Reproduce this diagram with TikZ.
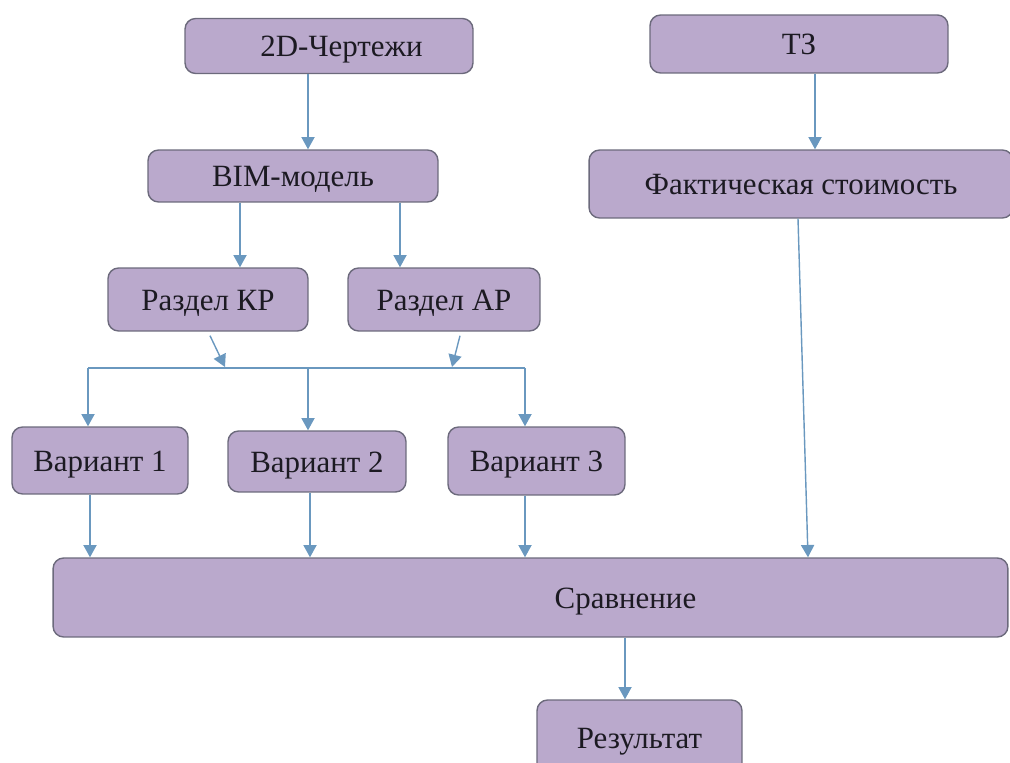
\documentclass[tikz,border=0pt]{standalone}
\usepackage{fontspec}
\setmainfont{Liberation Serif}
\usepackage{xcolor}
\definecolor{boxfill}{HTML}{BAA9CC}
\definecolor{boxline}{HTML}{6C6A7C}
\definecolor{arrowblue}{HTML}{6A98BF}
\definecolor{textdark}{HTML}{1C1A22}
\usetikzlibrary{arrows.meta}

\begin{document}
\begin{tikzpicture}[
  x=0.02cm,y=-0.02cm,
  boxtext/.style={text=textdark,font=\fontsize{17.6}{20}\selectfont,
                  text height=1.45em,text depth=0.2em},
  box/.style={draw=boxline,fill=boxfill,line width=0.8pt,rounded corners=6pt,
              boxtext,inner sep=0pt},
  arr/.style={-{Triangle[length=7pt,width=7.5pt]},arrowblue,line width=0.8pt}
]
  \useasboundingbox (0,0) rectangle (1010,763);
  \clip (0,0) rectangle (1010,763);

  \node[box,minimum width=5.76cm,minimum height=1.10cm,
        label={[boxtext,xshift=0.25cm]center:2D-Чертежи}] (d2) at (329,46) {};
  \node[box,minimum width=5.96cm,minimum height=1.16cm] (tz) at (799,44) {ТЗ};
  \node[box,minimum width=5.80cm,minimum height=1.04cm] (bim) at (293,176) {BIM-модель};
  \node[box,minimum width=8.48cm,minimum height=1.36cm] (fact) at (801,184) {Фактическая стоимость};
  \node[box,minimum width=4.00cm,minimum height=1.26cm] (kr) at (208,299.5) {Раздел КР};
  \node[box,minimum width=3.84cm,minimum height=1.26cm] (ar) at (444,299.5) {Раздел АР};
  \node[box,minimum width=3.52cm,minimum height=1.34cm] (v1) at (100,460.5) {Вариант 1};
  \node[box,minimum width=3.56cm,minimum height=1.22cm] (v2) at (317,461.5) {Вариант 2};
  \node[box,minimum width=3.54cm,minimum height=1.36cm] (v3) at (536.5,461) {Вариант 3};
  \node[box,minimum width=19.10cm,minimum height=1.58cm,
        label={[boxtext,xshift=1.9cm]center:Сравнение}] (cmp) at (530.5,597.5) {};
  \node[box,minimum width=4.10cm,minimum height=1.50cm] (res) at (639.5,737.5) {Результат};

  \coordinate (busL) at (88,368);
  \coordinate (busM) at (308,368);
  \coordinate (busR) at (525,368);
  \coordinate (krIn) at (225,367);
  \coordinate (arIn) at (452,367);

  \draw[arr] (d2.south -| 308,0) -- (bim.north -| 308,0);
  \draw[arr] (tz.south -| 815,0) -- (fact.north -| 815,0);
  \draw[arr] (bim.south -| 240,0) -- (kr.north -| 240,0);
  \draw[arr] (bim.south -| 400,0) -- (ar.north -| 400,0);
  \draw[arr] ([shift={(2,4)}]kr.south) -- (krIn);
  \draw[arr] ([shift={(16,4)}]ar.south) -- (arIn);
  \draw[arrowblue,line width=0.8pt] (busL) -- (busR);
  \draw[arr] (busL) -- (v1.north -| busL);
  \draw[arr] (busM) -- (v2.north -| busM);
  \draw[arr] (busR) -- (v3.north -| busR);
  \draw[arr] (v1.south -| 90,0) -- (cmp.north -| 90,0);
  \draw[arr] (v2.south -| 310,0) -- (cmp.north -| 310,0);
  \draw[arr] (v3.south -| 525,0) -- (cmp.north -| 525,0);
  \draw[arr] ([xshift=-0.06cm]fact.south) -- (cmp.north -| 808,0);
  \draw[arr] (cmp.south -| 625,0) -- (res.north -| 625,0);
\end{tikzpicture}
\end{document}
